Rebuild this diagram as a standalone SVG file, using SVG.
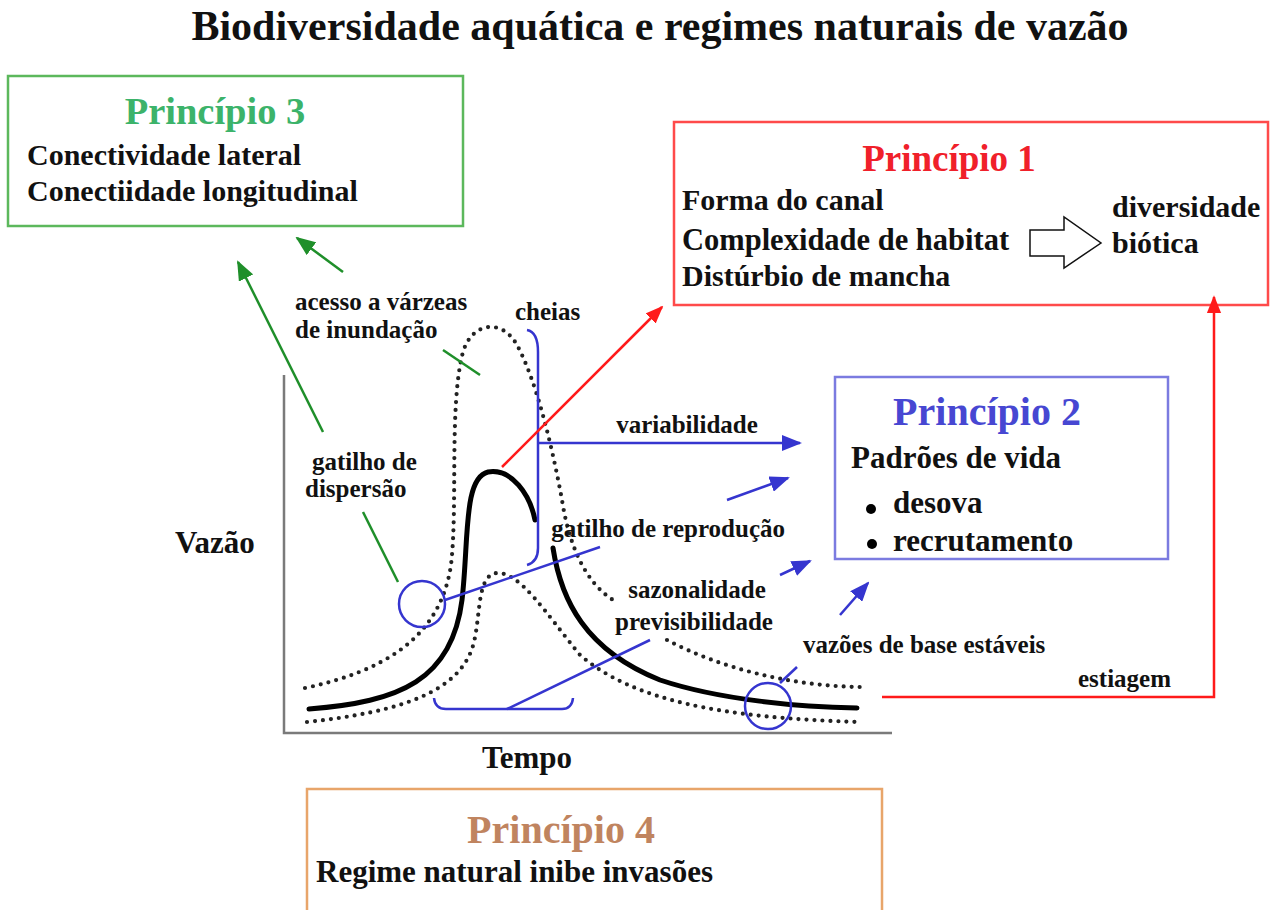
<svg xmlns="http://www.w3.org/2000/svg" width="1277" height="910" viewBox="0 0 1277 910">
<defs>
<style>
text{font-family:"Liberation Serif","Times New Roman",serif;font-weight:bold;fill:#111}
.title{font-size:42px}
.head{font-size:38px}
.body{font-size:30px}
.lbl{font-size:25px}
.axis{font-size:31px}
.box{fill:#fff;stroke-width:2.5}
.dot{fill:none;stroke:#222;stroke-width:4.2;stroke-linecap:round;stroke-dasharray:0 8}
.solid{fill:none;stroke:#000;stroke-width:5;stroke-linecap:round}
.g{stroke:#1f8f2a;stroke-width:2.5;fill:none}
.b{stroke:#3535cf;stroke-width:2.5;fill:none}
.r{stroke:#ff1a1a;stroke-width:2.5;fill:none}
</style>
<marker id="ag" viewBox="0 0 20 16" refX="18" refY="8" markerWidth="20" markerHeight="16" markerUnits="userSpaceOnUse" orient="auto"><path d="M0,0 L20,8 L0,16 Z" fill="#1f8f2a"/></marker>
<marker id="ab" viewBox="0 0 20 16" refX="18" refY="8" markerWidth="20" markerHeight="16" markerUnits="userSpaceOnUse" orient="auto"><path d="M0,0 L20,8 L0,16 Z" fill="#3535cf"/></marker>
<marker id="ar" viewBox="0 0 20 16" refX="18" refY="8" markerWidth="18" markerHeight="15" markerUnits="userSpaceOnUse" orient="auto"><path d="M0,0 L20,8 L0,16 Z" fill="#ff1a1a"/></marker>
</defs>
<rect width="1277" height="910" fill="#fff"/>
<text class="title" x="660" y="40" text-anchor="middle">Biodiversidade aquática e regimes naturais de vazão</text>

<g id="principio3">
<rect class="box" x="8" y="76" width="455" height="150" stroke="#5cb85c"/>
<text class="head" x="215" y="124" text-anchor="middle" style="fill:#3cb36a;font-size:38.5px">Princípio 3</text>
<text class="body" x="27" y="165">Conectividade lateral</text>
<text class="body" x="27" y="201">Conectiidade longitudinal</text>
</g>

<g id="principio1">
<rect class="box" x="674" y="122" width="594" height="183" stroke="#ff4a4a"/>
<text class="head" x="949" y="171" text-anchor="middle" style="fill:#f0202a;font-size:37px">Princípio 1</text>
<text class="body" x="682" y="210">Forma do canal</text>
<text class="body" x="682" y="250" style="font-size:30.5px">Complexidade de habitat</text>
<text class="body" x="682" y="286">Distúrbio de mancha</text>
<path d="M1030,230 L1064,230 L1064,217 L1101,243 L1064,268 L1064,256 L1030,256 Z" fill="#fff" stroke="#111" stroke-width="1.5"/>
<text class="body" x="1112" y="217">diversidade</text>
<text class="body" x="1112" y="253">biótica</text>
</g>

<g id="principio2">
<rect class="box" x="835" y="377" width="333" height="182" stroke="#7b7be0"/>
<text class="head" x="987" y="425" text-anchor="middle" style="fill:#4747d2;font-size:40px">Princípio 2</text>
<text class="body" x="851" y="468" style="font-size:31px">Padrões de vida</text>
<circle cx="871" cy="509" r="5" fill="#000"/>
<text class="body" x="893" y="513" style="font-size:31px">desova</text>
<circle cx="872" cy="544" r="5" fill="#000"/>
<text class="body" x="893" y="551" style="font-size:31px">recrutamento</text>
</g>

<g id="principio4">
<rect class="box" x="307" y="789" width="575" height="130" stroke="#e8a56a"/>
<text class="head" x="561" y="843" text-anchor="middle" style="fill:#c0845f;font-size:40px">Princípio 4</text>
<text class="body" x="316" y="882" style="font-size:31px">Regime natural inibe invasões</text>
</g>

<g id="grafico">
<path d="M284,375 L284,733 L892,733" fill="none" stroke="#7a7a7a" stroke-width="2.5"/>
<text class="axis" x="175" y="553">Vazão</text>
<text class="axis" x="527" y="768" text-anchor="middle">Tempo</text>
<path class="dot" d="M305,688 C380,672 440,640 451,565 C458,505 449,405 463,352 C472,322 502,318 517,345 C535,378 551,440 562,500 C569,545 585,582 613,600"/>
<path class="dot" d="M667,640 C720,668 790,686 860,687"/>
<path class="dot" d="M307,722 C400,712 462,692 474,642 C481,612 477,575 497,573 C520,572 545,612 580,655 C632,700 720,718 860,722"/>
<path class="solid" d="M309,709 C400,702 452,680 462,600 C469,540 463,478 488,472 C512,468 530,495 535,520"/>
<path class="solid" d="M553,548 C561,600 585,650 660,680 C720,700 800,707 857,708"/>
</g>

<g id="conectores">
<path class="b" d="M527,330 Q538,332 538,352 L538,548 Q538,562 527,565"/>
<path class="b" d="M434,698 Q435,709 446,709 L562,709 Q572,709 573,698"/>
<circle class="b" cx="422" cy="604" r="23"/>
<circle class="b" cx="768" cy="706" r="23"/>
<line class="b" x1="538" y1="443" x2="800" y2="443" marker-end="url(#ab)"/>
<line class="b" x1="445" y1="600" x2="600" y2="547"/>
<line class="b" x1="727" y1="500" x2="788" y2="478" marker-end="url(#ab)"/>
<line class="b" x1="507" y1="709" x2="650" y2="640"/>
<line class="b" x1="780" y1="575" x2="810" y2="561" marker-end="url(#ab)"/>
<line class="b" x1="840" y1="615" x2="868" y2="583" marker-end="url(#ab)"/>
<line class="b" x1="780" y1="683" x2="797" y2="667"/>
<line class="g" x1="323" y1="432" x2="238" y2="262" marker-end="url(#ag)"/>
<line class="g" x1="343" y1="272" x2="297" y2="238" marker-end="url(#ag)"/>
<line class="g" x1="443" y1="350" x2="480" y2="375"/>
<line class="g" x1="363" y1="512" x2="398" y2="582"/>
<line class="r" x1="502" y1="467" x2="662" y2="307" marker-end="url(#ar)"/>
<path class="r" d="M882,697 L1214,697 L1214,297" marker-end="url(#ar)"/>
</g>

<g id="rotulos">
<text class="lbl" x="295" y="310">acesso a várzeas</text>
<text class="lbl" x="295" y="338">de inundação</text>
<text class="lbl" x="515" y="320">cheias</text>
<text class="lbl" x="687" y="433" text-anchor="middle">variabilidade</text>
<text class="lbl" x="312" y="470">gatilho de</text>
<text class="lbl" x="305" y="497">dispersão</text>
<text class="lbl" x="785" y="537" text-anchor="end">gatilho de reprodução</text>
<text class="lbl" x="697" y="598" text-anchor="middle">sazonalidade</text>
<text class="lbl" x="694" y="630" text-anchor="middle">previsibilidade</text>
<text class="lbl" x="803" y="653">vazões de base estáveis</text>
<text class="lbl" x="1078" y="687">estiagem</text>
</g>
</svg>
